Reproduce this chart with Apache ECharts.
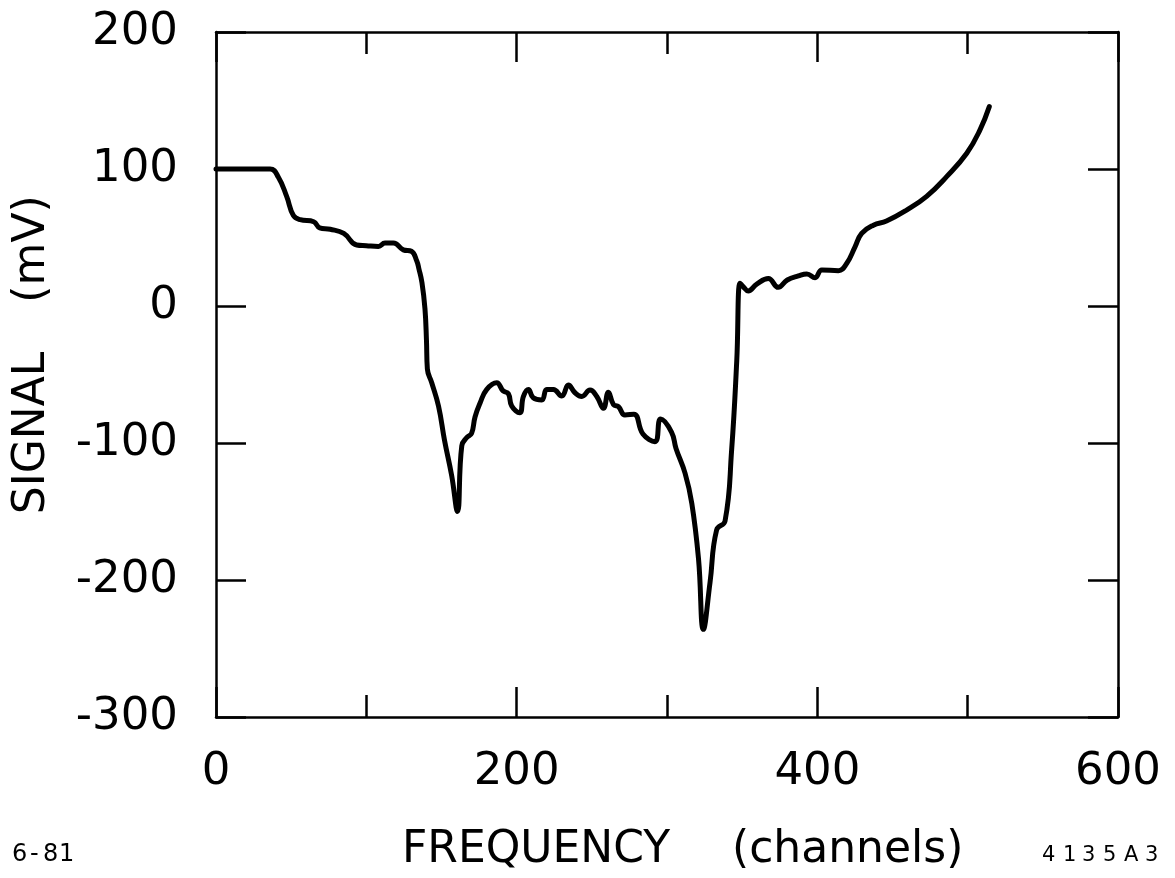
<!DOCTYPE html>
<html>
<head>
<meta charset="utf-8">
<title>Signal vs frequency</title>
<script src="https://cdn.jsdelivr.net/npm/echarts@6/dist/echarts.min.js"></script>
<style>
  html, body { margin: 0; padding: 0; background: #fff; }
  #chart { width: 1175px; height: 878px; }
</style>
</head>
<body>
<div id="chart"></div>
<script>
// Spectrum trace: signal (mV) against frequency channel
const channels = [
  0, 36, 41.5, 47, 51.5, 56, 65, 69, 76, 85, 93.6, 100, 108, 112.4, 118, 124.6, 130,
  133.5, 135, 137, 139, 140, 140.6, 143.5, 148, 152, 156.8, 160.6, 163.5, 166.8, 170,
  172.3, 175.6, 180, 186.7, 191, 194.5, 196.7, 202, 204.5, 207.8, 211, 216.7, 220,
  224.4, 230, 234.4, 238.8, 243.3, 248.8, 253.3, 257.7, 261, 264.4, 267.7, 272, 278,
  284, 292, 295.8, 303, 306, 312, 316.5, 321, 324.2, 328.6, 333, 338.6, 343, 346.4,
  348.6, 350.8, 354, 359.7, 367.4, 374, 380, 387.4, 393, 398.5, 403, 414, 419.5, 425,
  429.5, 437.3, 446, 459.4, 472.7, 486, 499.4, 508.2, 514.4
];
const signalMv = [
  100, 100, 94, 80, 66, 63, 61.5, 57, 56, 53, 44.5, 44, 43.5, 46, 46, 41, 40,
  33, 27, 17, -2, -25, -46, -56, -73, -98, -124, -150, -102, -96, -93,
  -81, -71, -61, -56, -62, -64, -73, -78, -66, -61, -67, -68.6, -61,
  -61, -65.7, -57.7, -63.3, -66, -61.3, -66, -74.7, -63, -72, -73.5, -79.5, -79,
  -93.5, -99, -82.5, -92, -104, -122, -144, -185, -236, -202, -163.5, -157, -105, -40,
  16.6, 14, 11, 16, 20, 13.6, 19, 22, 23.4, 20.7, 26.3, 25.8, 31, 43,
  53, 59, 62, 70, 80, 94.4, 111.5, 128.5, 145.5
];

const xTicks = { min: 0, max: 600, interval: 200 };
const yTicks = { min: -300, max: 200, interval: 100 };

const FONT = '"DejaVu Sans", "Liberation Sans", sans-serif';
const INK = '#000';

const chart = echarts.init(document.getElementById('chart'), null, { renderer: 'canvas' });

function frameAxis(extra) {
  return Object.assign({
    type: 'value',
    axisLine: { show: true, onZero: false, lineStyle: { color: INK, width: 2.5 } },
    axisTick: { show: true, inside: true, length: 30, lineStyle: { color: INK, width: 2.5 } },
    splitLine: { show: false },
    axisLabel: { show: false }
  }, extra);
}

const labelStyle = { show: true, color: INK, fontSize: 45, fontFamily: FONT };

// Small letter-spaced annotations: one text element per character, at given offsets
function spacedText(str, left, top, offsets, size) {
  return {
    type: 'group',
    left: left,
    top: top,
    children: str.split('').map((ch, i) => ({
      type: 'text',
      x: offsets[i],
      y: 0,
      style: { text: ch, font: size + 'px ' + FONT, fill: INK }
    }))
  };
}

chart.setOption({
  animation: false,
  backgroundColor: '#fff',
  grid: { left: 216, right: 57, top: 32, bottom: 161, containLabel: false },
  xAxis: [
    frameAxis({
      position: 'bottom', min: xTicks.min, max: xTicks.max, interval: xTicks.interval,
      minorTick: { show: true, splitNumber: 2, length: 22, lineStyle: { color: INK, width: 2.5 } },
      axisLabel: Object.assign({ margin: 33 }, labelStyle)
    }),
    frameAxis({
      position: 'top', min: xTicks.min, max: xTicks.max, interval: xTicks.interval,
      minorTick: { show: true, splitNumber: 2, length: 22, lineStyle: { color: INK, width: 2.5 } }
    })
  ],
  yAxis: [
    frameAxis({
      position: 'left', min: yTicks.min, max: yTicks.max, interval: yTicks.interval,
      axisLabel: Object.assign({ margin: 38 }, labelStyle)
    }),
    frameAxis({
      position: 'right', min: yTicks.min, max: yTicks.max, interval: yTicks.interval
    })
  ],
  series: [{
    type: 'line',
    xAxisIndex: 0,
    yAxisIndex: 0,
    data: channels.map((c, i) => [c, signalMv[i]]),
    showSymbol: false,
    smooth: 0.45,
    lineStyle: { color: INK, width: 5, join: 'round', cap: 'round' }
  }],
  graphic: [
    { type: 'text', left: 402, top: 829, style: { text: 'FREQUENCY', font: '44px ' + FONT, fill: INK } },
    { type: 'text', left: 732, top: 829, style: { text: '(channels)', font: '44px ' + FONT, fill: INK } },
    { type: 'text', x: 33, y: 433, rotation: Math.PI / 2,
      style: { text: 'SIGNAL', font: '44px ' + FONT, fill: INK, align: 'center', verticalAlign: 'middle' } },
    { type: 'text', x: 33, y: 249, rotation: Math.PI / 2,
      style: { text: '(mV)', font: '44px ' + FONT, fill: INK, align: 'center', verticalAlign: 'middle' } },
    spacedText('6-81', 12, 843, [0, 18, 31, 47], 24),
    spacedText('4135A3', 1042, 845, [0, 21, 40, 61, 82, 103], 21)
  ]
});
</script>
</body>
</html>
